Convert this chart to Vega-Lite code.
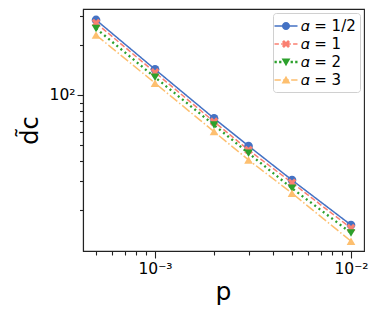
{
  "$schema": "https://vega.github.io/schema/vega-lite/v6.json",
  "width": 281,
  "height": 242,
  "autosize": "none",
  "padding": {"left": 83, "top": 9, "right": 15, "bottom": 65},
  "background": "white",
  "config": {
    "font": "DejaVu Sans",
    "view": {"stroke": "#222222", "strokeWidth": 1.1},
    "axis": {"domainColor": "#222222", "tickColor": "#222222", "labelColor": "black", "titleColor": "black", "labelFont": "DejaVu Sans", "titleFont": "DejaVu Sans", "grid": false, "domainWidth": 1.1, "tickWidth": 1.1, "titleFontWeight": "normal"}
  },
  "data": {"values": [
    {"p": 0.0005, "d": 285, "series": "𝛼 = 1/2"},
    {"p": 0.001, "d": 143, "series": "𝛼 = 1/2"},
    {"p": 0.002, "d": 72.2, "series": "𝛼 = 1/2"},
    {"p": 0.003, "d": 49.1, "series": "𝛼 = 1/2"},
    {"p": 0.005, "d": 30.5, "series": "𝛼 = 1/2"},
    {"p": 0.01, "d": 16.3, "series": "𝛼 = 1/2"},
    {"p": 0.0005, "d": 273, "series": "𝛼 = 1"},
    {"p": 0.001, "d": 137, "series": "𝛼 = 1"},
    {"p": 0.002, "d": 68.9, "series": "𝛼 = 1"},
    {"p": 0.003, "d": 46.4, "series": "𝛼 = 1"},
    {"p": 0.005, "d": 29.4, "series": "𝛼 = 1"},
    {"p": 0.01, "d": 15.6, "series": "𝛼 = 1"},
    {"p": 0.0005, "d": 253, "series": "𝛼 = 2"},
    {"p": 0.001, "d": 128, "series": "𝛼 = 2"},
    {"p": 0.002, "d": 65.8, "series": "𝛼 = 2"},
    {"p": 0.003, "d": 44.4, "series": "𝛼 = 2"},
    {"p": 0.005, "d": 27.2, "series": "𝛼 = 2"},
    {"p": 0.01, "d": 14.6, "series": "𝛼 = 2"},
    {"p": 0.0005, "d": 231, "series": "𝛼 = 3"},
    {"p": 0.001, "d": 118, "series": "𝛼 = 3"},
    {"p": 0.002, "d": 60.0, "series": "𝛼 = 3"},
    {"p": 0.003, "d": 40.4, "series": "𝛼 = 3"},
    {"p": 0.005, "d": 25.4, "series": "𝛼 = 3"},
    {"p": 0.01, "d": 13.0, "series": "𝛼 = 3"}
  ]},
  "encoding": {
    "x": {"field": "p", "type": "quantitative",
      "scale": {"type": "log", "domain": [0.000429, 0.01165], "nice": false},
      "axis": {"values": [0.0005, 0.0006, 0.0007, 0.0008, 0.0009, 0.001, 0.002, 0.003, 0.004, 0.005, 0.006, 0.007, 0.008, 0.009, 0.01],
        "labelExpr": "datum.value == 0.001 ? '10⁻³' : datum.value == 0.01 ? '10⁻²' : ''",
        "tickSize": {"condition": {"test": "datum.value == 0.001 || datum.value == 0.01", "value": 7}, "value": 4},
        "labelFontSize": 15.5, "labelPadding": 3, "labelFlush": false, "labelOverlap": false, "labelBound": false,
        "title": "p", "titleFontSize": 25, "titleX": 140, "titleY": 48, "titleBaseline": "alphabetic", "titleAlign": "center"}},
    "y": {"field": "d", "type": "quantitative",
      "scale": {"type": "log", "domain": [11.34, 332], "nice": false},
      "axis": {"values": [20, 30, 40, 50, 60, 70, 80, 90, 100, 200, 300],
        "labelExpr": "datum.value == 100 ? '10²' : ''",
        "tickSize": {"condition": {"test": "datum.value == 100", "value": 6}, "value": 3.5},
        "labelFontSize": 15.5, "labelPadding": 2, "labelFlush": false, "labelOverlap": false, "labelBound": false,
        "title": "d̃c", "titleFontSize": 24, "titleAngle": 270, "titleX": -46, "titleY": 121, "titleBaseline": "alphabetic", "titleAlign": "center"}},
    "color": {"field": "series", "type": "nominal", "legend": null,
      "scale": {"domain": ["𝛼 = 1/2", "𝛼 = 1", "𝛼 = 2", "𝛼 = 3"], "range": ["#4472C4", "#FA8072", "#2CA02C", "#FDBF6F"]}}
  },
  "layer": [
    {
      "mark": {"type": "line", "clip": true},
      "encoding": {
        "strokeDash": {"field": "series", "type": "nominal", "legend": null,
          "scale": {"domain": ["𝛼 = 1/2", "𝛼 = 1", "𝛼 = 2", "𝛼 = 3"], "range": [[1, 0], [5.5, 2.4], [2, 3.3], [9.6, 2.4, 1.5, 2.4]]}},
        "strokeWidth": {"condition": {"test": "datum.series === '𝛼 = 2'", "value": 2.3}, "value": 1.5}
      }
    },
    {
      "mark": {"type": "point", "filled": true, "opacity": 1, "size": 75},
      "encoding": {
        "shape": {"field": "series", "type": "nominal", "legend": null,
          "scale": {"domain": ["𝛼 = 1/2", "𝛼 = 1", "𝛼 = 2", "𝛼 = 3"], "range": ["circle", "M-1,-0.5L-0.5,-1L0,-0.5L0.5,-1L1,-0.5L0.5,0L1,0.5L0.5,1L0,0.5L-0.5,1L-1,0.5L-0.5,0Z", "triangle-down", "triangle-up"]}}
      }
    },
    {
      "mark": {"type": "point", "filled": true, "opacity": 0, "size": 324},
      "encoding": {
        "fill": {"field": "series", "type": "nominal",
          "scale": {"domain": ["𝛼 = 1/2", "𝛼 = 1", "𝛼 = 2", "𝛼 = 3"], "range": ["#4472C4", "#FA8072", "#2CA02C", "#FDBF6F"]},
          "legend": {"title": null, "orient": "top-right", "offset": 4, "padding": 4, "strokeColor": "#d0d0d0", "cornerRadius": 3, "fillColor": "rgba(255,255,255,0.8)", "labelFontSize": 15, "labelFont": "DejaVu Sans", "labelColor": "black", "symbolSize": 324, "symbolStrokeWidth": 0, "symbolOpacity": 1, "labelOffset": 5.5, "rowPadding": 1}},
        "shape": {"field": "series", "type": "nominal",
          "scale": {"domain": ["𝛼 = 1/2", "𝛼 = 1", "𝛼 = 2", "𝛼 = 3"], "range": [
            "M-1.278,-0.083L1.278,-0.083L1.278,0.083L-1.278,0.083Z M0.45,0A0.45,0.45 0 1,1 -0.45,0A0.45,0.45 0 1,1 0.45,0Z",
            "M-1.278,-0.083L-0.79,-0.083L-0.79,0.083L-1.278,0.083Z M-0.54,-0.083L0.54,-0.083L0.54,0.083L-0.54,0.083Z M0.79,-0.083L1.278,-0.083L1.278,0.083L0.79,0.083Z M-0.45,-0.225L-0.225,-0.45L0,-0.225L0.225,-0.45L0.45,-0.225L0.225,0L0.45,0.225L0.225,0.45L0,0.225L-0.225,0.45L-0.45,0.225L-0.225,0Z",
            "M-1.278,-0.128L-1.022,-0.128L-1.022,0.128L-1.278,0.128Z M-0.767,-0.128L-0.511,-0.128L-0.511,0.128L-0.767,0.128Z M0.511,-0.128L0.767,-0.128L0.767,0.128L0.511,0.128Z M1.022,-0.128L1.278,-0.128L1.278,0.128L1.022,0.128Z M-0.49,-0.38L0.49,-0.38L0,0.46Z",
            "M-1.278,-0.083L-0.575,-0.083L-0.575,0.083L-1.278,0.083Z M-0.32,-0.083L0.32,-0.083L0.32,0.083L-0.32,0.083Z M0.575,-0.083L1.278,-0.083L1.278,0.083L0.575,0.083Z M0,-0.46L0.49,0.38L-0.49,0.38Z"]},
          "legend": {"title": null, "orient": "top-right", "offset": 4, "padding": 4, "strokeColor": "#d0d0d0", "cornerRadius": 3, "fillColor": "rgba(255,255,255,0.8)", "labelFontSize": 15, "labelFont": "DejaVu Sans", "labelColor": "black", "symbolSize": 324, "symbolStrokeWidth": 0, "symbolOpacity": 1, "labelOffset": 5.5, "rowPadding": 1}}
      }
    }
  ],
  "resolve": {"scale": {"shape": "independent", "fill": "independent"}, "legend": {"shape": "independent", "fill": "independent"}}
}
